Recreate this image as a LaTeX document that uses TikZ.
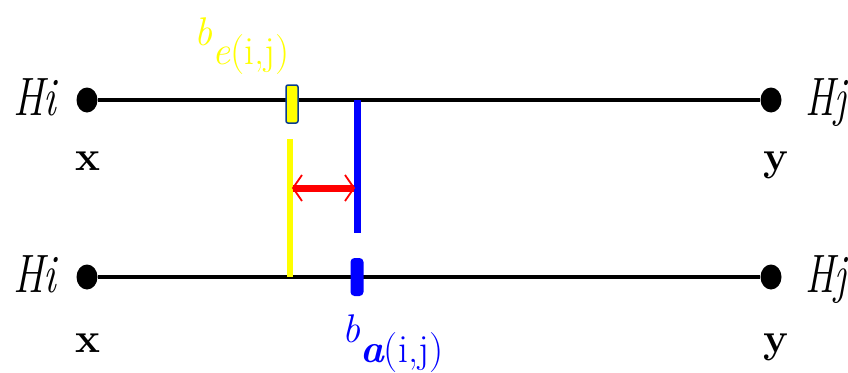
\documentclass[tikz,border=0pt]{standalone}
\usepackage{fontspec}
\usepackage{xcolor}
\usepackage{graphicx}
\usetikzlibrary{shapes.geometric}
\definecolor{navyedge}{RGB}{10,60,140}
\definecolor{pureblue}{RGB}{0,0,255}
\definecolor{pureyellow}{RGB}{255,255,0}
\begin{document}
\begin{tikzpicture}[x=1pt,y=-1pt,
  hline/.style={line width=3.5pt},
  vertex/.style={ellipse,fill=black,minimum width=21pt,minimum height=25pt,inner sep=0pt},
  hlabel/.style={font=\fontsize{54}{54}\selectfont\itshape,inner sep=0pt},
  xylabel/.style={font=\fontsize{42}{42}\selectfont\bfseries,inner sep=0pt},
  blabel/.style={font=\fontsize{40}{40}\selectfont,inner sep=0pt}]
\useasboundingbox (0,0) rectangle (848,372);
% vertices
\node[vertex] (a1) at (87,100) {};
\node[vertex] (b1) at (771,100) {};
\node[vertex] (a2) at (87,277) {};
\node[vertex] (b2) at (771,277) {};
\draw[hline] (a1) -- (b1);
\draw[hline] (a2) -- (b2);
% labels
\node[hlabel,anchor=base west] (hi1) at (13,115) {\scalebox{0.78}[1]{Hi}};
\node[hlabel,anchor=base west] (hj1) at (805,115) {\scalebox{0.74}[1]{Hj}};
\node[hlabel,anchor=base west] (hi2) at (13,292) {\scalebox{0.78}[1]{Hi}};
\node[hlabel,anchor=base west] (hj2) at (805,292) {\scalebox{0.74}[1]{Hj}};
\node[xylabel,anchor=base] (x1) at (88,170) {x};
\node[xylabel,anchor=base] (y1) at (776,170) {y};
\node[xylabel,anchor=base] (x2) at (88,352) {x};
\node[xylabel,anchor=base] (y2) at (776,352) {y};
% markers and vertical lines
\coordinate (ytop) at (290,139);
\coordinate (ybot) at (290,277);
\coordinate (btop) at (357,100);
\coordinate (bbot) at (357,233);
\draw[pureyellow,line width=6pt] (ytop) -- (ybot);
\draw[pureblue,line width=7pt] (btop) -- (bbot);
\node[draw=navyedge,line width=1.5pt,fill=pureyellow,rounded corners=2pt,minimum width=12pt,minimum height=38pt,inner sep=0pt] (mk1) at (292,104) {};
\node[fill=pureblue,rounded corners=4pt,minimum width=13pt,minimum height=38pt,inner sep=0pt] (mk2) at (357,277) {};
% red arrow
\coordinate (ra) at (293,188);
\coordinate (rb) at (354,188);
\draw[red,line width=7pt] (ra) -- (rb);
\draw[red,line width=1.8pt] ([xshift=9pt,yshift=-13pt]ra) -- (ra) -- ([xshift=9pt,yshift=13pt]ra);
\draw[red,line width=1.8pt] ([xshift=-9pt,yshift=-13pt]rb) -- (rb) -- ([xshift=-9pt,yshift=13pt]rb);
% b labels
\node[blabel,text=pureyellow,anchor=base west] (be) at (194,45)
  {\itshape b\raisebox{-20pt}{\itshape e\upshape(i,j)}};
\node[blabel,text=pureblue,anchor=base west] (ba) at (342,342)
  {\itshape b\raisebox{-20pt}{\bfseries\itshape a\mdseries\upshape(i,j)}};
\end{tikzpicture}
\end{document}
